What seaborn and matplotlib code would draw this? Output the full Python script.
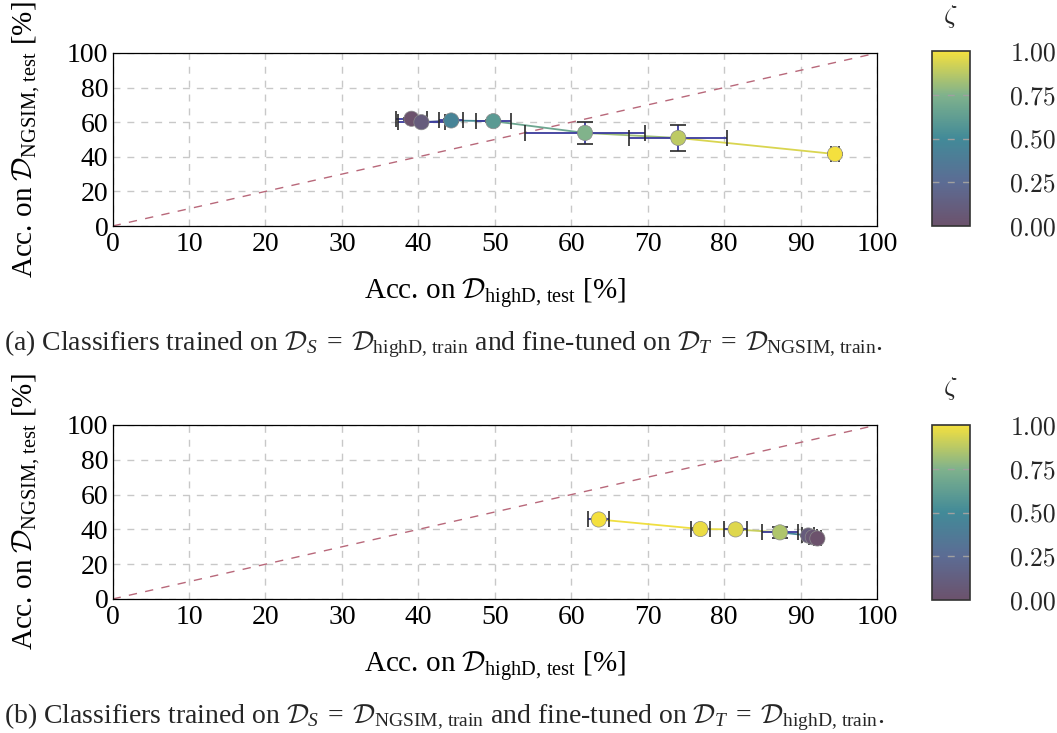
import numpy as np
import pandas as pd
import matplotlib
matplotlib.use("Agg")
import matplotlib.pyplot as plt
import matplotlib.colors as mcolors
import matplotlib.cm as cm
import seaborn as sns

# ---------------- data ----------------
# panel (a): source highD, target NGSIM
acc_highd_a = [39.1, 40.4, 44.3, 49.8, 61.8, 74.0, 94.5]
acc_ngsim_a = [62.0, 60.0, 61.0, 60.6, 53.8, 50.9, 41.6]
xerr_a = [2.0, 3.1, 1.55, 2.3, 7.8, 6.4, 0.5]
yerr_a = [0.6, 0.6, 0.6, 0.6, 6.6, 7.3, 0.6]
zeta_a = [0.0, 0.1, 0.45, 0.6, 0.75, 0.88, 1.0]

# panel (b): source NGSIM, target highD
acc_highd_b = [63.6, 76.9, 81.5, 87.3, 91.0, 91.6, 92.2]
acc_ngsim_b = [45.7, 40.2, 40.0, 38.3, 36.5, 35.5, 34.8]
xerr_b = [1.35, 1.2, 1.5, 2.4, 0.8, 0.5, 0.5]
yerr_b = [0.5, 0.5, 0.5, 3.3, 0.5, 0.5, 0.5]
zeta_b = [1.0, 0.98, 0.95, 0.85, 0.1, 0.05, 0.0]

diag = [0, 100]
xticks = [0, 10, 20, 30, 40, 50, 60, 70, 80, 90, 100]
yticks = [0, 20, 40, 60, 80, 100]
cbar_ticks = [0.0, 0.25, 0.5, 0.75, 1.0]
cbar_ticklabels = ["0.00", "0.25", "0.50", "0.75", "1.00"]

captions = [
    r"(a) Classifiers trained on $\mathcal{D}_S\;=\;\mathcal{D}_{\mathrm{highD,\,train}}$ and fine-tuned on $\mathcal{D}_T\;=\;\mathcal{D}_{\mathrm{NGSIM,\,train}}$.",
    r"(b) Classifiers trained on $\mathcal{D}_S\;=\;\mathcal{D}_{\mathrm{NGSIM,\,train}}$ and fine-tuned on $\mathcal{D}_T\;=\;\mathcal{D}_{\mathrm{highD,\,train}}$.",
]
xlabel = r"Acc. on $\mathcal{D}_{\mathrm{highD,\,test}}$ $[\%]$"
ylabel = r"Acc. on $\mathcal{D}_{\mathrm{NGSIM,\,test}}$ $[\%]$"

# ---------------- style ----------------
sns.set_theme(style="white")
plt.rcParams["font.family"] = ["Liberation Serif", "DejaVu Serif"]
plt.rcParams["mathtext.fontset"] = "custom"
plt.rcParams["mathtext.rm"] = "Liberation Serif"
plt.rcParams["mathtext.it"] = "Liberation Serif:italic"
plt.rcParams["mathtext.cal"] = "cmsy10"

# muted viridis-like colormap as seen in the reference
cmap = mcolors.LinearSegmentedColormap.from_list(
    "muted_viridis",
    [(0.00, (108 / 255, 82 / 255, 108 / 255)),
     (0.25, (92 / 255, 108 / 255, 148 / 255)),
     (0.50, (66 / 255, 138 / 255, 152 / 255)),
     (0.75, (128 / 255, 178 / 255, 140 / 255)),
     (1.00, (244 / 255, 224 / 255, 62 / 255))])
norm = mcolors.Normalize(0, 1)

W, H = 1057, 733
fig = plt.figure(figsize=(W / 100, H / 100), dpi=100)

panels = [
    (acc_highd_a, acc_ngsim_a, xerr_a, yerr_a, zeta_a, 53, 226, 51, 226, 16, 344, 0),
    (acc_highd_b, acc_ngsim_b, xerr_b, yerr_b, zeta_b, 425, 599, 425, 600, 388, 717, 1),
]

for (xs, ys, xe, ye, zs, top, bot, ctop, cbot, ztitle_y, cap_y, k) in panels:
    ax = fig.add_axes([112.6 / W, 1 - bot / H, (877 - 112.6) / W, (bot - top) / H])
    df = pd.DataFrame({"x": xs, "y": ys, "zeta": zs})

    ax.plot(diag, diag, color="#b8687a", lw=1.0, ls=(0, (6, 6)), zorder=2)

    # connecting line, coloured by zeta
    for i in range(len(xs) - 1):
        c = cmap(norm((zs[i] + zs[i + 1]) / 2))
        ax.plot(xs[i:i + 2], ys[i:i + 2], color=c, lw=1.3, zorder=3)

    eb = ax.errorbar(df["x"], df["y"], xerr=xe, yerr=ye, fmt="none",
                     ecolor="#3a3a9c", elinewidth=1.3, capsize=5.5, capthick=1.2,
                     zorder=4)
    for cl in eb[1]:
        cl.set_color("#2a2a2a")
        cl.set_markeredgecolor("#2a2a2a")

    sns.scatterplot(data=df, x="x", y="y", hue="zeta", palette=cmap, hue_norm=(0, 1),
                    s=120, edgecolor="#8a8a8a", linewidth=0.5, legend=False,
                    ax=ax, zorder=5)

    ax.set_xlim(0, 100)
    ax.set_ylim(0, 100)
    ax.set_xticks(xticks)
    ax.set_yticks(yticks)
    ax.grid(True, color="#c8c8c8", lw=1.0, ls=(0, (5, 5)))
    ax.set_axisbelow(True)
    for s in ax.spines.values():
        s.set_color("black")
        s.set_linewidth(0.9)
    ax.tick_params(axis="both", direction="in", length=4, width=0.8, labelsize=20,
                   pad=3, colors="black")
    ax.tick_params(axis="x", pad=4)
    ax.set_xlabel(xlabel, fontsize=21, labelpad=14, color="black")
    ax.set_ylabel(ylabel, fontsize=21, labelpad=18, color="black")

    cax = fig.add_axes([931.7 / W, 1 - cbot / H, 38.3 / W, (cbot - ctop) / H])
    sm = cm.ScalarMappable(norm=norm, cmap=cmap)
    cb = fig.colorbar(sm, cax=cax, ticks=cbar_ticks)
    cb.set_ticklabels(cbar_ticklabels)
    cb.outline.set_edgecolor("#333333")
    cb.outline.set_linewidth(1.2)
    cax.tick_params(length=0, pad=29, labelsize=18.5)
    for lab in cax.get_yticklabels():
        lab.set_fontfamily("cmr10")
    for t in [0.25, 0.5, 0.75]:
        cax.axhline(t, color="#a0a0a0", lw=1.0, ls=(0, (5, 6)))
    fig.text(950 / W, 1 - ztitle_y / H, r"$\zeta$", fontsize=19, ha="center",
             va="center", math_fontfamily="cm")

    fig.text(4 / W, 1 - cap_y / H, captions[k], fontsize=20, ha="left", va="center")

fig.savefig("out.png", dpi=100)
